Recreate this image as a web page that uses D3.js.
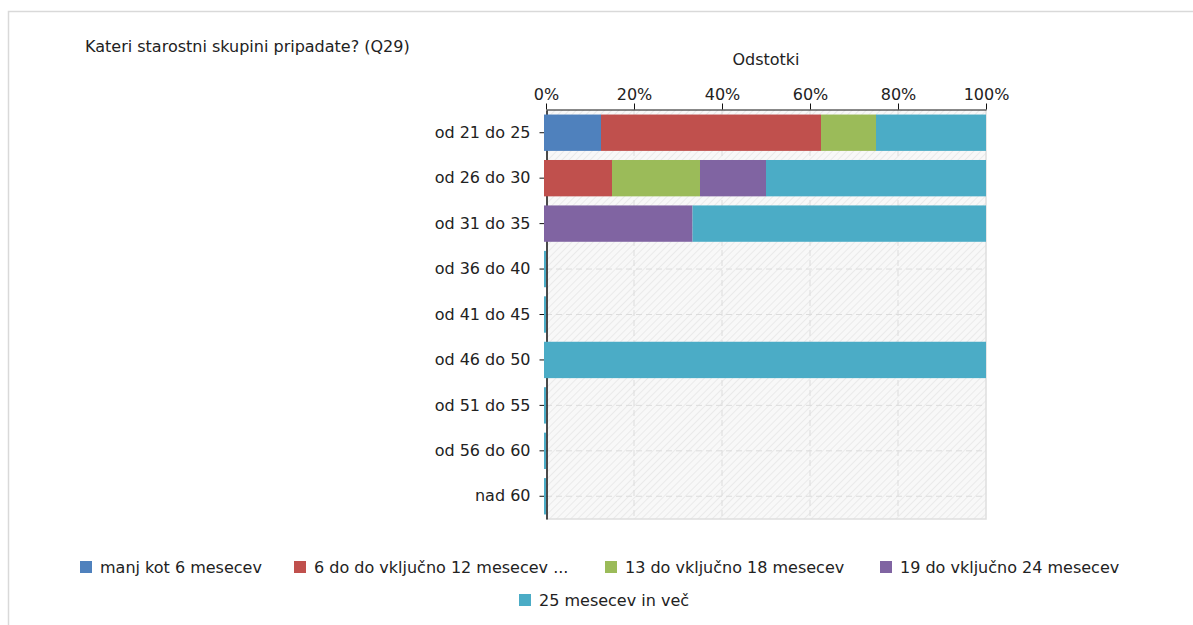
<!DOCTYPE html>
<html><head><meta charset="utf-8">
<script src="https://cdn.jsdelivr.net/npm/d3@7/dist/d3.min.js"></script>
<style>
body{margin:0;background:#fff;}
svg{display:block;font-family:"DejaVu Sans",Verdana,sans-serif;}
</style></head>
<body>
<svg id="c" width="1193" height="625"></svg>
<script>
const title = "Kateri starostni skupini pripadate? (Q29)";
const axisTitle = "Odstotki";
const categories = ["od 21 do 25","od 26 do 30","od 31 do 35","od 36 do 40","od 41 do 45","od 46 do 50","od 51 do 55","od 56 do 60","nad 60"];
const seriesNames = ["manj kot 6 mesecev","6 do do vključno 12 mesecev ...","13 do vključno 18 mesecev","19 do vključno 24 mesecev","25 mesecev in več"];
const seriesColors = ["#4f81bd","#c0504d","#9bbb59","#8064a2","#4bacc6"];
const s1 = [12.5, 0, 0, 0, 0, 0, 0, 0, 0];
const s2 = [50, 15, 0, 0, 0, 0, 0, 0, 0];
const s3 = [12.5, 20, 0, 0, 0, 0, 0, 0, 0];
const s4 = [0, 15, 33.3, 0, 0, 0, 0, 0, 0];
const s5 = [25, 50, 66.7, 0, 0, 100, 0, 0, 0];
const xTicks = [0, 20, 40, 60, 80, 100];
const tickLabels = ["0%","20%","40%","60%","80%","100%"];

const FS = 16;
const FONT = "DejaVu Sans, Verdana, sans-serif";
const svg = d3.select("#c");
const W = 1193, H = 625;
const L = 546, R = 986, T = 110, B = 519;

// frame
svg.append("path").attr("d", `M8.5,${H} L8.5,11.5 L${W},11.5`).attr("fill","none").attr("stroke","#d9d9d9").attr("stroke-width",1.5);

svg.append("text").attr("x",85).attr("y",52).attr("font-size",FS).attr("fill","#222").text(title);

const x = d3.scaleLinear().domain([0,100]).range([L,R]);
const y = d3.scaleBand().domain(categories).range([T,B]).paddingInner(0.2).paddingOuter(0.1);

// hatch pattern
const defs = svg.append("defs");
const pat = defs.append("pattern").attr("id","hatch").attr("patternUnits","userSpaceOnUse").attr("width",5).attr("height",5).attr("patternTransform","rotate(45)");
pat.append("rect").attr("width",5).attr("height",5).attr("fill","#f8f8f8");
pat.append("line").attr("x1",0).attr("y1",0).attr("x2",0).attr("y2",5).attr("stroke","#eaeaea").attr("stroke-width",2);

svg.append("rect").attr("x",L).attr("y",T).attr("width",R-L).attr("height",B-T).attr("fill","url(#hatch)");

// gridlines
const g = svg.append("g");
g.selectAll(".vg").data(xTicks.slice(1,-1)).join("line")
  .attr("x1",d=>x(d)).attr("x2",d=>x(d)).attr("y1",T).attr("y2",B)
  .attr("stroke","#dcdcdc").attr("stroke-dasharray","6,4");
g.selectAll(".hg").data(categories).join("line")
  .attr("x1",L).attr("x2",R).attr("y1",d=>y(d)+y.bandwidth()/2).attr("y2",d=>y(d)+y.bandwidth()/2)
  .attr("stroke","#dcdcdc").attr("stroke-dasharray","6,4");
// plot border right & bottom
svg.append("path").attr("d",`M${R},${T} L${R},${B} L${L},${B}`).attr("fill","none").attr("stroke","#dedede").attr("stroke-width",1.5);

// axes
const xAxis = d3.axisTop(x).tickValues(xTicks).tickFormat((d,i)=>tickLabels[i]).tickSize(6).tickSizeOuter(0);
const ax = svg.append("g").attr("transform",`translate(0,${T-0.5})`).call(xAxis);
ax.select(".domain").attr("stroke","#111");
ax.selectAll(".tick line").attr("stroke","#111");
ax.selectAll(".tick text").attr("font-size",FS).attr("fill","#222").attr("font-family",FONT).attr("dy","-0.05em");

const yAxis = d3.axisLeft(y).tickSize(5).tickSizeOuter(0).tickPadding(11);
const ay = svg.append("g").attr("transform",`translate(${L+0.5},0)`).call(yAxis);
ay.select(".domain").attr("stroke","#111").attr("stroke-width",1.5);
ay.selectAll(".tick line").attr("stroke","#111").attr("transform","translate(-2,0)");
ay.selectAll(".tick text").attr("font-size",FS).attr("fill","#222").attr("font-family",FONT);

// stacked bars (drawn over the axis line)
const series = [s1,s2,s3,s4,s5];
const rows = categories.map((c,i)=>{ const o={cat:c}; series.forEach((s,j)=>o["s"+j]=s[i]); return o;});
const totals = categories.map((c,i)=>series.reduce((a,s)=>a+s[i],0));
const stack = d3.stack().keys(series.map((s,j)=>"s"+j))(rows);
stack.forEach((layer,j)=>{
  svg.append("g").selectAll("rect").data(layer.filter(d=>d[1]>d[0])).join("rect")
    .attr("x",d=>d[0]===0 ? x(0)-2 : x(d[0]))
    .attr("y",d=>y(d.data.cat))
    .attr("height",y.bandwidth())
    .attr("width",d=>x(d[1])-x(d[0]) + (d[0]===0 ? 2 : 0))
    .attr("fill",seriesColors[j]);
});
// empty rows: thin sliver of the last series at the zero line
svg.append("g").selectAll("rect").data(categories.filter((c,i)=>totals[i]===0)).join("rect")
  .attr("x",x(0)-2).attr("y",d=>y(d)).attr("width",2).attr("height",y.bandwidth())
  .attr("fill",seriesColors[seriesColors.length-1]);

svg.append("text").attr("x",(L+R)/2).attr("y",65).attr("text-anchor","middle").attr("font-size",FS).attr("fill","#222").text(axisTitle);

// legend
const legendPos = [[80,567],[294,567],[605,567],[880,567],[519,600]];
seriesNames.forEach((n,j)=>{
  const [lx,ly] = legendPos[j];
  svg.append("rect").attr("x",lx).attr("y",ly-6).attr("width",12).attr("height",12).attr("fill",seriesColors[j]);
  svg.append("text").attr("x",lx+20).attr("y",ly+6).attr("font-size",FS).attr("fill","#222").text(n);
});
</script>
</body></html>
